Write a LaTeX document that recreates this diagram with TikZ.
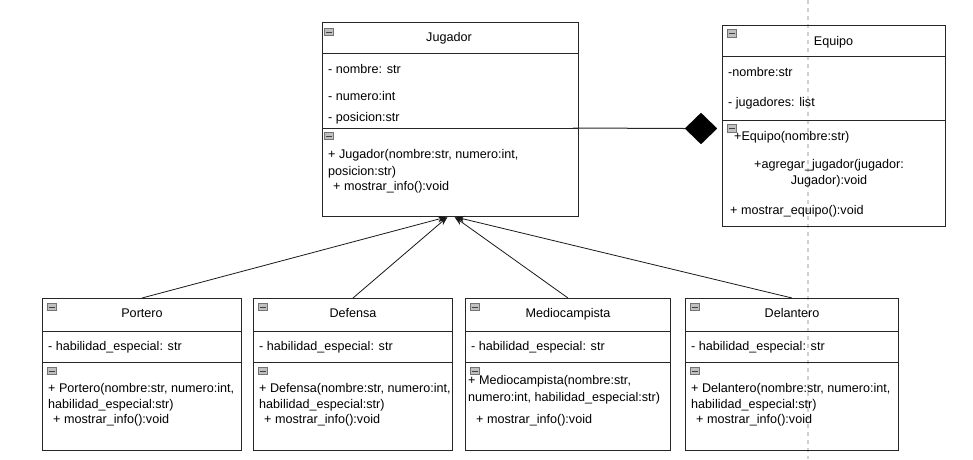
\documentclass[tikz,border=0pt]{standalone}
\usepackage{fontspec}
\setmainfont{Liberation Sans}
\usetikzlibrary{arrows.meta,calc,shapes.geometric}
\begin{document}
\begin{tikzpicture}[x=1pt,y=-1pt,
 box/.style={draw=black!85, line width=1pt, anchor=north west, inner sep=0pt},
 sep/.style={draw=black!85, line width=1pt},
 txt/.style={anchor=west, inner sep=0pt, font=\fontsize{12.6}{16}\selectfont, text height=9.3pt, text depth=2.6pt},
 ttl/.style={txt, anchor=center},
 mini/.style={draw=black!55, fill=black!25, line width=0.6pt, inner sep=0pt, minimum width=9pt, minimum height=7.5pt,
   path picture={\draw[black!75, line width=1pt] ([xshift=1.5pt]path picture bounding box.west) -- ([xshift=-1.5pt]path picture bounding box.east);}},
 inh/.style={draw=black!90, line width=0.8pt, -{Stealth[length=9pt,width=6.5pt]}},
 conn/.style={draw=black!85, line width=1pt},
 guide/.style={draw=black!18, line width=1.3pt, dash pattern=on 4pt off 4pt}
]
\useasboundingbox (0,0) rectangle (973,459);
\coordinate (gtop) at (808,0);
\coordinate (gbot) at (808,459);
\draw[guide] (gtop) -- (gbot);

% Jugador
\node[box, minimum width=256pt, minimum height=194pt] (jug) at (322,22) {};
\draw[sep] ($(jug.north west)+(0,31)$) -- ($(jug.north east)+(0,31)$);
\draw[sep] ($(jug.north west)+(0,106)$) -- ($(jug.north east)+(0,106)$);
\node[mini] (jugi1) at (329,32) {};
\node[mini] (jugi2) at (329,136) {};
\node[ttl] (jugt) at (449,38) {Jugador};
\node[txt] (juga1) at (328,70) {- nombre: str};
\node[txt] (juga2) at (328,97) {- numero:int};
\node[txt] (juga3) at (328,118) {- posicion:str};
\node[txt] (jugm1) at (328,155) {+ Jugador(nombre:str, numero:int,};
\node[txt] (jugm2) at (328,172) {posicion:str)};
\node[txt] (jugm3) at (333,187) {+ mostrar\_info():void};

% Equipo
\node[box, minimum width=223pt, minimum height=201pt] (equ) at (722,25) {};
\draw[sep] ($(equ.north west)+(0,31)$) -- ($(equ.north east)+(0,31)$);
\draw[sep] ($(equ.north west)+(0,95)$) -- ($(equ.north east)+(0,95)$);
\node[mini] (equi1) at (731.5,33.5) {};
\node[mini] (equi2) at (731.5,128.5) {};
\node[ttl] (equt) at (833.5,42) {Equipo};
\node[txt] (equa1) at (728,73) {-nombre:str};
\node[txt] (equa2) at (728,103) {- jugadores: list};
\node[txt] (equm1) at (734,137) {+Equipo(nombre:str)};
\node[txt, anchor=center, align=center, text height=, text depth=] (equm2) at (829,173) {+agregar\_jugador(jugador:\\Jugador):void};
\node[txt] (equm3) at (730,211) {+ mostrar\_equipo():void};

% Aggregation
\node[diamond, fill=black, draw=black, minimum width=32pt, minimum height=31pt, inner sep=0pt] (dia) at (701,128.5) {};
\coordinate (jugc) at (573,128);
\draw[conn] (jugc) -- (dia.west);

% Subclasses
\node[box, minimum width=199pt, minimum height=152pt] (por) at (42,298) {};
\node[box, minimum width=199pt, minimum height=152pt] (def) at (253,298) {};
\node[box, minimum width=205pt, minimum height=152pt] (med) at (465,298) {};
\node[box, minimum width=213pt, minimum height=152pt] (del) at (685,298) {};
\foreach \b in {por,def,med,del}{
  \draw[sep] ($(\b.north west)+(0,33)$) -- ($(\b.north east)+(0,33)$);
  \draw[sep] ($(\b.north west)+(0,64)$) -- ($(\b.north east)+(0,64)$);
  \node[mini] (\b i1) at ($(\b.north west)+(9.5,9)$) {};
  \node[mini] (\b i2) at ($(\b.north west)+(9.5,73)$) {};
  \node[txt] (\b a) at ($(\b.north west)+(6,49)$) {- habilidad\_especial: str};
}
\node[ttl] (port) at ($(por.north)+(0,16)$) {Portero};
\node[ttl] (deft) at ($(def.north)+(0,16)$) {Defensa};
\node[ttl] (medt) at ($(med.north)+(0,16)$) {Mediocampista};
\node[ttl] (delt) at ($(del.north)+(0,16)$) {Delantero};

\node[txt] (porm1) at (48,389) {+ Portero(nombre:str, numero:int,};
\node[txt] (porm2) at (48,405) {habilidad\_especial:str)};
\node[txt] (porm3) at (53,420) {+ mostrar\_info():void};

\node[txt] (defm1) at (259,389) {+ Defensa(nombre:str, numero:int,};
\node[txt] (defm2) at (259,405) {habilidad\_especial:str)};
\node[txt] (defm3) at (264,420) {+ mostrar\_info():void};

\node[txt] (medm1) at (468,381) {+ Mediocampista(nombre:str,};
\node[txt] (medm2) at (468,398) {numero:int, habilidad\_especial:str)};
\node[txt] (medm3) at (476,420) {+ mostrar\_info():void};

\node[txt] (delm1) at (691,389) {+ Delantero(nombre:str, numero:int,};
\node[txt] (delm2) at (691,405) {habilidad\_especial:str)};
\node[txt] (delm3) at (696,420) {+ mostrar\_info():void};

% Inheritance
\draw[inh] (por.north) -- ($(jug.south)+(-4,0)$);
\draw[inh] (def.north) -- ($(jug.south)+(-3,0)$);
\draw[inh] (med.north) -- ($(jug.south)+(4,0)$);
\draw[inh] (del.north) -- ($(jug.south)+(5,0)$);
\end{tikzpicture}
\end{document}
